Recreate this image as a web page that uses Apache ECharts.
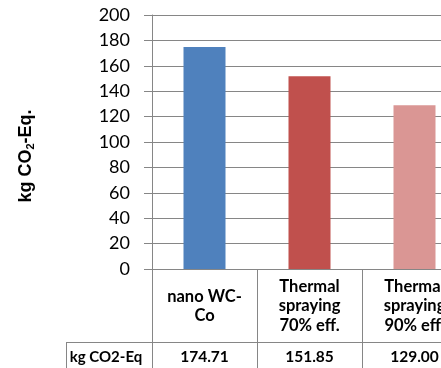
<!DOCTYPE html>
<html>
<head>
<meta charset="utf-8">
<script src="https://cdn.jsdelivr.net/npm/echarts@6/dist/echarts.min.js"></script>
<style>
html,body{margin:0;padding:0;background:#fff;}
#chart{width:441px;height:368px;}
</style>
</head>
<body>
<div id="chart"></div>
<script>
const categories = ['nano WC-\nCo', 'Thermal\nspraying\n70% eff.', 'Thermal\nspraying\n90% eff.'];
const values = [174.71, 151.85, 129.00];
const valueLabels = ['174.71', '151.85', '129.00'];
const barColors = ['#4f81bd', '#c0504d', '#da9694'];
const rowHeader = 'kg CO2-Eq';
const yTicks = { min: 0, max: 200, interval: 20 };

const gridColor = '#868686';
const chart = echarts.init(document.getElementById('chart'));
chart.setOption({
  animation: false,
  backgroundColor: '#fff',
  grid: { left: 152, top: 15, bottom: 99, width: 315, containLabel: false, outerBoundsMode: 'none' },
  xAxis: [
    {
      type: 'category',
      data: categories,
      position: 'bottom',
      axisLine: { show: true, lineStyle: { color: gridColor, width: 1 } },
      axisTick: { show: true, length: 100, lineStyle: { color: gridColor } },
      axisLabel: {
        interval: 0, margin: 37, verticalAlign: 'middle', lineHeight: 19.5,
        fontFamily: 'Lato', fontWeight: 'bold', fontSize: 16.5, color: '#000'
      }
    },
    {
      type: 'category',
      data: valueLabels,
      position: 'bottom',
      offset: 73,
      axisLine: { show: true, lineStyle: { color: gridColor, width: 1 } },
      axisTick: { show: false },
      axisLabel: {
        interval: 0, margin: 15, verticalAlign: 'middle',
        fontFamily: 'Lato', fontWeight: 'bold', fontSize: 15.5, color: '#000'
      }
    }
  ],
  yAxis: {
    type: 'value',
    min: yTicks.min, max: yTicks.max, interval: yTicks.interval,
    axisLine: { show: true, lineStyle: { color: gridColor } },
    axisTick: { show: true, length: 8, lineStyle: { color: gridColor } },
    splitLine: { show: true, lineStyle: { color: gridColor, width: 1 } },
    axisLabel: { margin: 22, fontFamily: 'Lato', fontSize: 18, color: '#000' },
    name: '{a|kg CO}{s|2}{a|-Eq.}',
    nameLocation: 'middle',
    nameGap: 115,
    nameRotate: 90,
    nameTextStyle: {
      padding: [0, 28, 0, 0],
      rich: {
        a: { fontFamily: 'Liberation Sans', fontWeight: 'bold', fontSize: 18, color: '#000', lineHeight: 22 },
        s: { fontFamily: 'Liberation Sans', fontWeight: 'bold', fontSize: 11, color: '#000', lineHeight: 22, padding: [9, 0, 0, 0] }
      }
    }
  },
  series: [{
    type: 'bar',
    barWidth: '40%',
    data: values.map((v, i) => ({ value: v, itemStyle: { color: barColors[i] } }))
  }],
  graphic: [
    { type: 'line', shape: { x1: 66, y1: 342.5, x2: 152, y2: 342.5 }, style: { stroke: gridColor, lineWidth: 1 } },
    { type: 'line', shape: { x1: 66.5, y1: 342, x2: 66.5, y2: 368 }, style: { stroke: gridColor, lineWidth: 1 } },
    { type: 'text', x: 106, y: 357, style: { text: rowHeader, fontFamily: 'Lato', fontWeight: 'bold', fontSize: 15, fill: '#000', align: 'center', verticalAlign: 'middle' } }
  ]
});
</script>
</body>
</html>
